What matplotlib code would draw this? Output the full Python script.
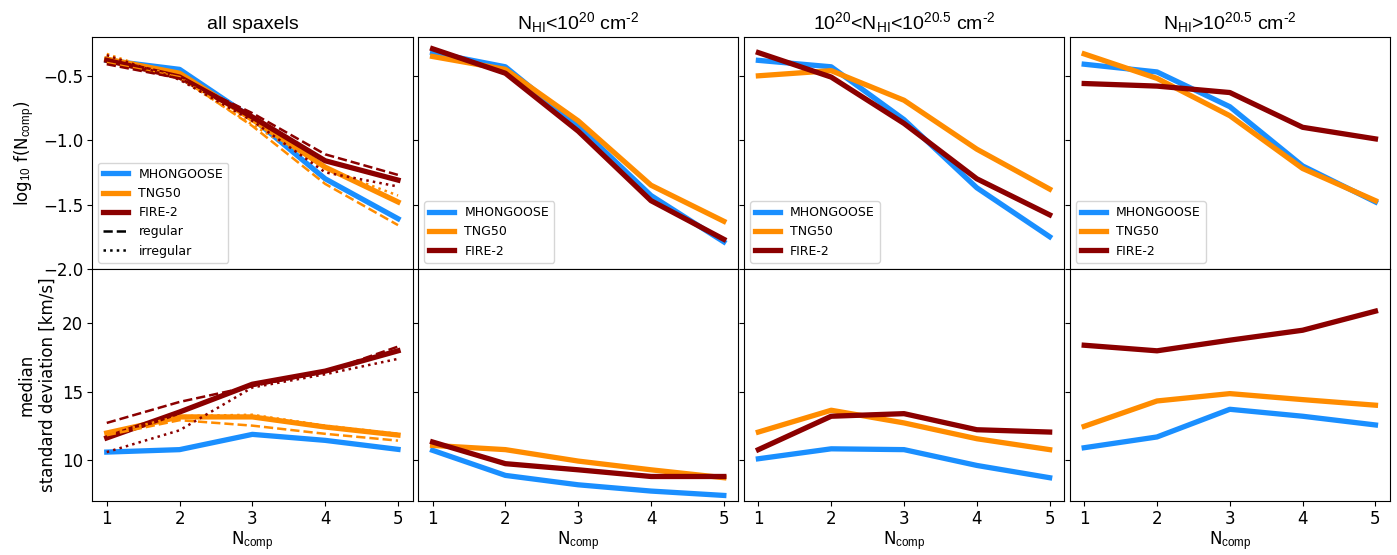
import matplotlib
matplotlib.use('Agg')
import matplotlib.pyplot as plt
from matplotlib.lines import Line2D
import numpy as np

plt.rcParams['mathtext.fontset'] = 'custom'
plt.rcParams['mathtext.rm'] = 'Liberation Sans'
plt.rcParams['mathtext.it'] = 'Liberation Sans:italic'
plt.rcParams['mathtext.bf'] = 'Liberation Sans:bold'

n_comp = [1, 2, 3, 4, 5]

titles = ['all spaxels',
          r'N$_{\rm HI}$<10$^{20}$ cm$^{\text{-2}}$',
          r'10$^{20}$<N$_{\rm HI}$<10$^{20.5}$ cm$^{\text{-2}}$',
          r'N$_{\rm HI}$>10$^{20.5}$ cm$^{\text{-2}}$']

# log10 f(N_comp), one list per panel
frac_mhongoose = [[-0.38, -0.45, -0.83, -1.30, -1.61],
                  [-0.32, -0.43, -0.89, -1.43, -1.79],
                  [-0.38, -0.43, -0.84, -1.37, -1.75],
                  [-0.41, -0.47, -0.74, -1.20, -1.48]]
frac_tng50 = [[-0.37, -0.48, -0.84, -1.21, -1.48],
              [-0.35, -0.45, -0.85, -1.35, -1.63],
              [-0.50, -0.46, -0.69, -1.07, -1.38],
              [-0.33, -0.52, -0.81, -1.22, -1.47]]
frac_fire2 = [[-0.38, -0.51, -0.82, -1.16, -1.31],
              [-0.29, -0.48, -0.93, -1.47, -1.77],
              [-0.32, -0.51, -0.87, -1.30, -1.58],
              [-0.56, -0.58, -0.63, -0.90, -0.99]]

# all spaxels, regular / irregular galaxies
frac_tng50_reg = [-0.40, -0.51, -0.89, -1.34, -1.66]
frac_tng50_irr = [-0.33, -0.52, -0.88, -1.22, -1.43]
frac_fire2_reg = [-0.41, -0.52, -0.79, -1.11, -1.27]
frac_fire2_irr = [-0.34, -0.53, -0.85, -1.25, -1.36]

# median standard deviation [km/s], one list per panel
sig_mhongoose = [[10.56, 10.74, 11.86, 11.42, 10.76],
                 [10.69, 8.85, 8.16, 7.70, 7.38],
                 [10.07, 10.80, 10.74, 9.58, 8.68],
                 [10.88, 11.67, 13.70, 13.19, 12.55]]
sig_tng50 = [[11.96, 13.14, 13.14, 12.40, 11.81],
             [11.05, 10.74, 9.90, 9.26, 8.68],
             [12.03, 13.63, 12.70, 11.54, 10.74],
             [12.45, 14.31, 14.85, 14.41, 14.00]]
sig_fire2 = [[11.60, 13.50, 15.54, 16.50, 17.99],
             [11.30, 9.71, 9.26, 8.77, 8.77],
             [10.74, 13.19, 13.38, 12.20, 12.03],
             [18.40, 17.99, 18.77, 19.50, 20.90]]

sig_tng50_reg = [11.80, 12.90, 12.50, 11.90, 11.40]
sig_tng50_irr = [11.90, 13.20, 13.30, 12.50, 11.90]
sig_fire2_reg = [12.70, 14.24, 15.40, 16.45, 18.30]
sig_fire2_irr = [10.56, 12.16, 15.30, 16.27, 17.40]

c_mh = '#1a8fff'
c_tng = 'darkorange'
c_fire = 'darkred'
lw = 3.8
lw_thin = 1.8

fig, axes = plt.subplots(2, 4, figsize=(13.97, 5.55), dpi=100, sharex=True)
fig.subplots_adjust(left=0.066, right=0.995, top=0.933, bottom=0.098,
                    wspace=0.017, hspace=0.0)

for i in range(4):
    ax_top = axes[0, i]
    ax_bot = axes[1, i]

    ax_top.plot(n_comp, frac_mhongoose[i], color=c_mh, lw=lw, label='MHONGOOSE')
    ax_top.plot(n_comp, frac_tng50[i], color=c_tng, lw=lw, label='TNG50')
    ax_top.plot(n_comp, frac_fire2[i], color=c_fire, lw=lw, label='FIRE-2')

    ax_bot.plot(n_comp, sig_mhongoose[i], color=c_mh, lw=lw)
    ax_bot.plot(n_comp, sig_tng50[i], color=c_tng, lw=lw)
    ax_bot.plot(n_comp, sig_fire2[i], color=c_fire, lw=lw)

    if i == 0:
        ax_top.plot(n_comp, frac_tng50_reg, color=c_tng, lw=lw_thin, ls='--')
        ax_top.plot(n_comp, frac_tng50_irr, color=c_tng, lw=lw_thin, ls=':')
        ax_top.plot(n_comp, frac_fire2_reg, color=c_fire, lw=lw_thin, ls='--')
        ax_top.plot(n_comp, frac_fire2_irr, color=c_fire, lw=lw_thin, ls=':')
        ax_bot.plot(n_comp, sig_tng50_reg, color=c_tng, lw=lw_thin, ls='--')
        ax_bot.plot(n_comp, sig_tng50_irr, color=c_tng, lw=lw_thin, ls=':')
        ax_bot.plot(n_comp, sig_fire2_reg, color=c_fire, lw=lw_thin, ls='--')
        ax_bot.plot(n_comp, sig_fire2_irr, color=c_fire, lw=lw_thin, ls=':')

        handles, labels = ax_top.get_legend_handles_labels()
        handles += [Line2D([], [], color='k', lw=lw_thin, ls='--'),
                    Line2D([], [], color='k', lw=lw_thin, ls=':')]
        labels += ['regular', 'irregular']
        ax_top.legend(handles, labels, loc='lower left', fontsize=9)
        ax_top.set_ylabel(r'log$_{10}$ f(N$_{\rm comp}$)', fontsize=12)
        ax_bot.set_ylabel('median\nstandard deviation [km/s]', fontsize=12)
    else:
        ax_top.legend(loc='lower left', fontsize=9)
        ax_top.set_yticklabels([])
        ax_bot.set_yticklabels([])

    ax_top.set_title(titles[i], fontsize=14, family='Liberation Sans')
    ax_top.set_ylim(-2.0, -0.2)
    ax_top.set_yticks([-2.0, -1.5, -1.0, -0.5])
    ax_bot.set_ylim(7, 24)
    ax_bot.set_yticks([10, 15, 20])
    ax_bot.set_xlim(0.8, 5.2)
    ax_bot.set_xticks(n_comp)
    ax_bot.set_xlabel(r'N$_{\rm comp}$', fontsize=12, labelpad=1)
    for ax in (ax_top, ax_bot):
        ax.tick_params(labelsize=12, pad=3)

plt.savefig('out.png', dpi=100)
